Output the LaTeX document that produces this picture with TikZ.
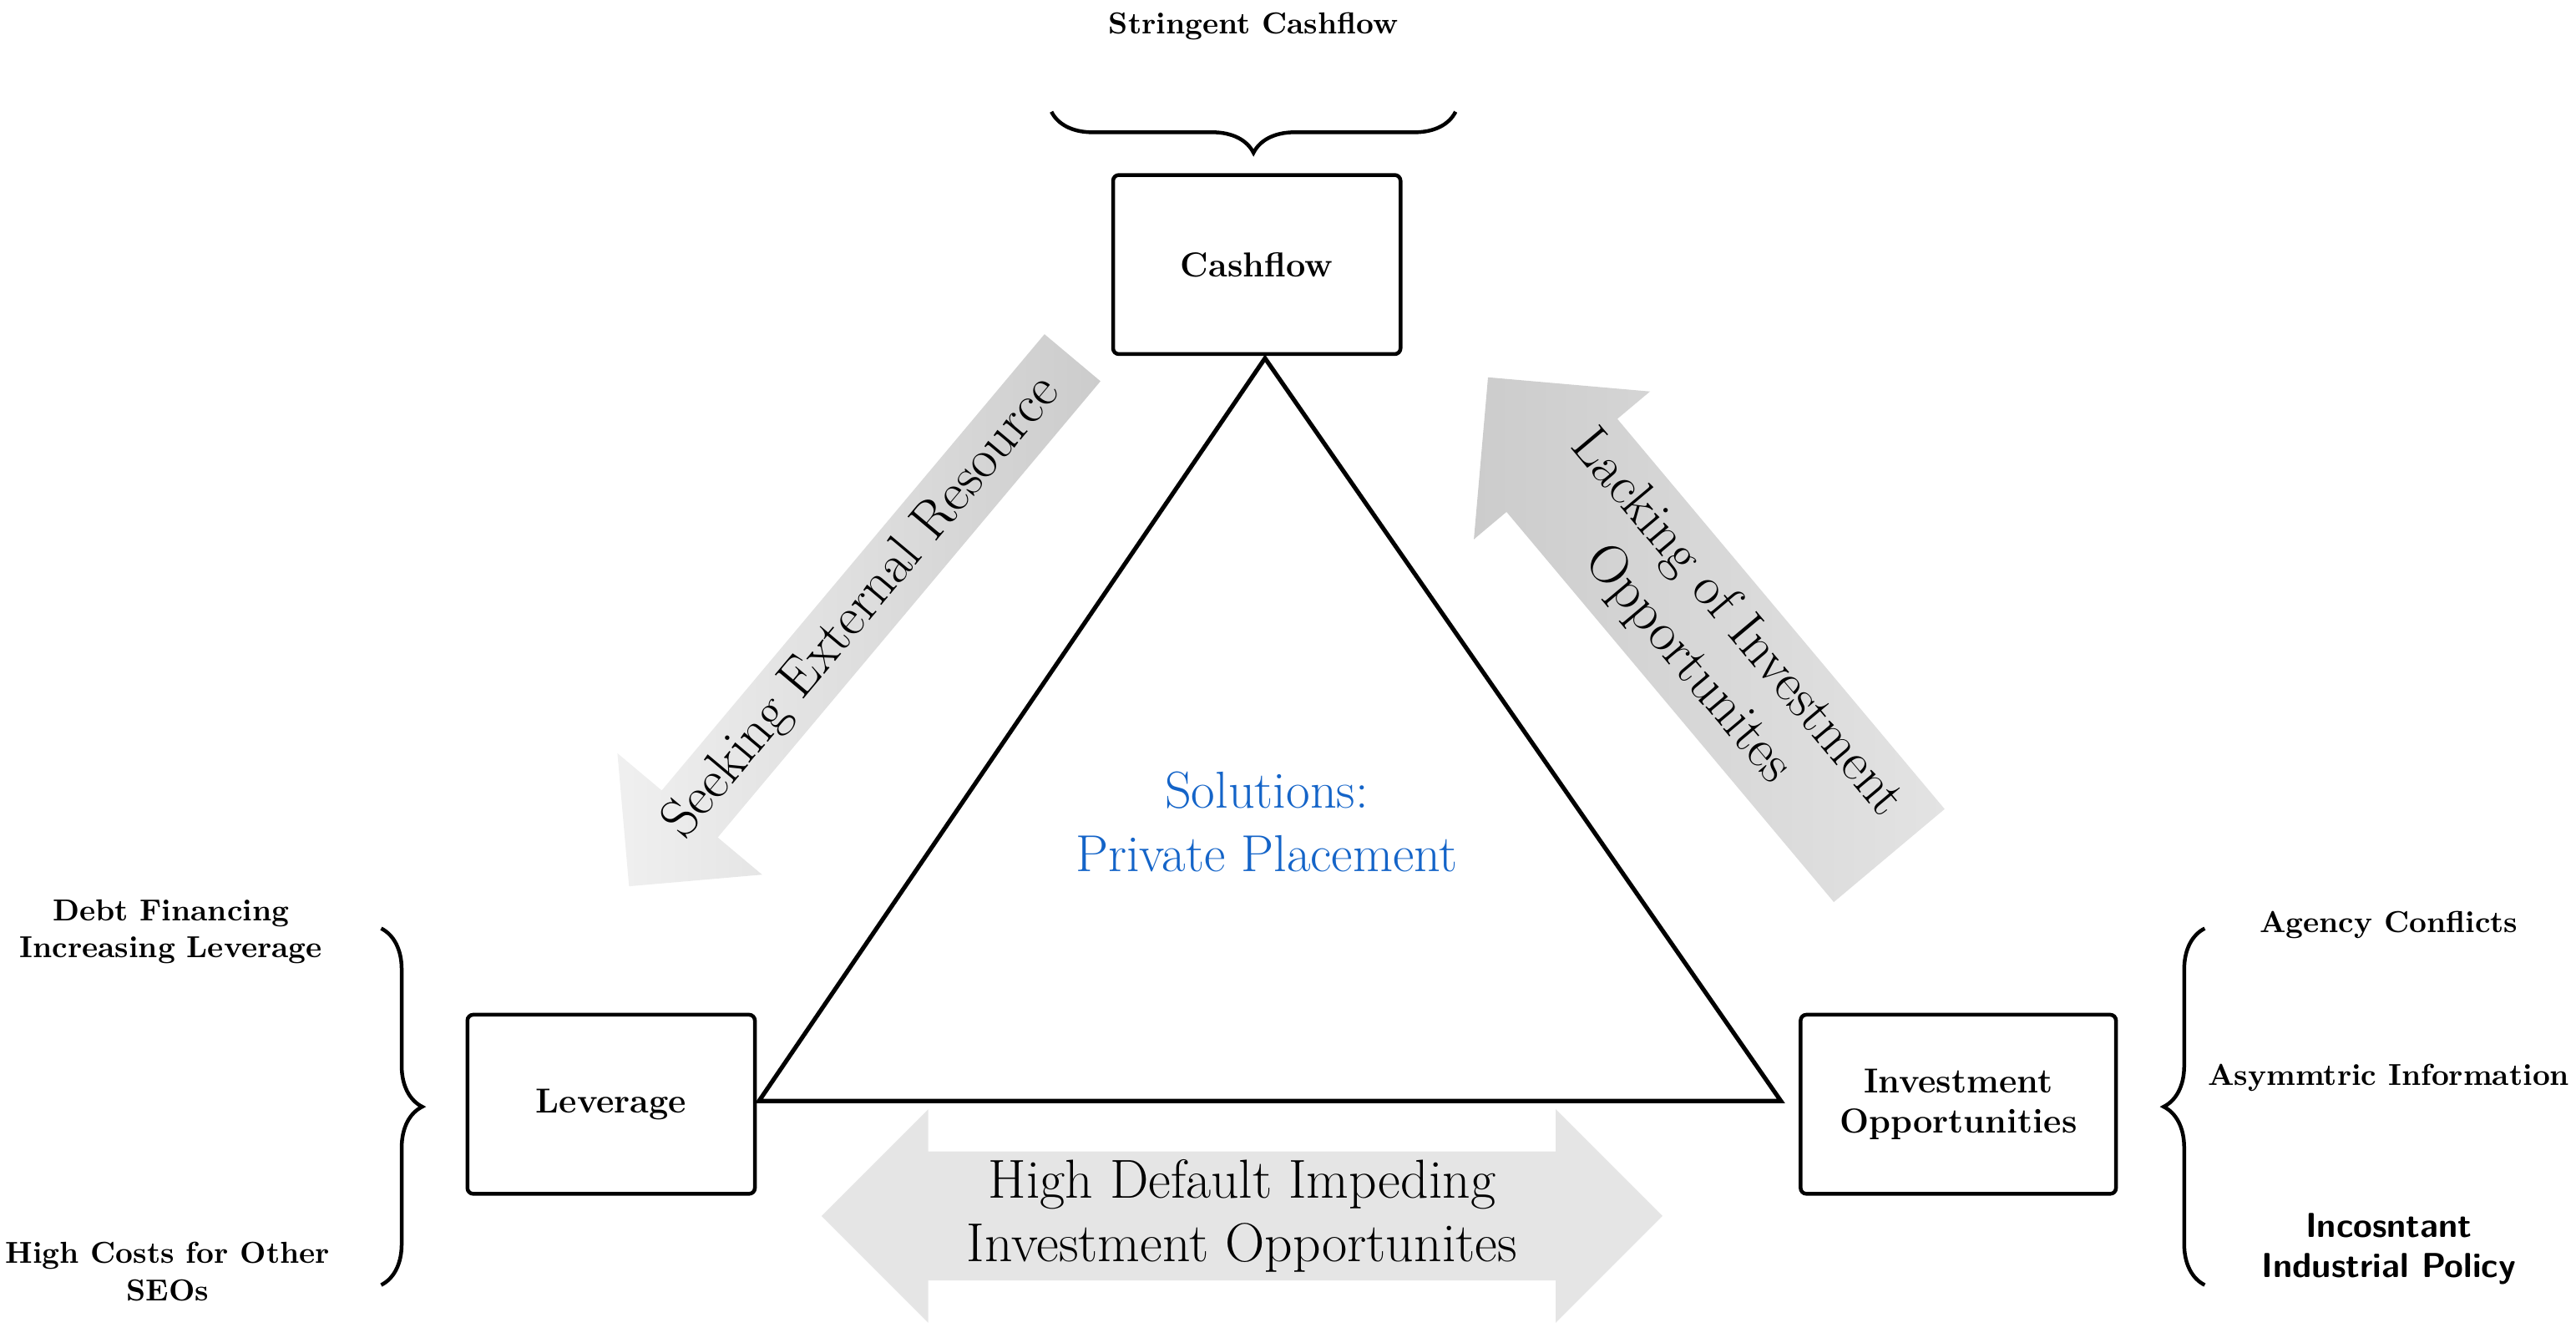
\documentclass[tikz,border=0pt]{standalone}
\usetikzlibrary{shapes.arrows,decorations.pathreplacing}
\definecolor{solblue}{RGB}{20,100,200}
\begin{document}
\begin{tikzpicture}[x=0.02cm,y=-0.02cm,
  box/.style={draw,line width=1.3pt,rounded corners=2pt,font=\fontsize{12}{14}\selectfont\bfseries,align=center},
  lbl/.style={font=\fontsize{10.5}{13}\selectfont\bfseries,align=center},
  brc/.style={draw,line width=1.3pt,decorate,decoration={brace,amplitude=0.5cm}},
  garrow/.style={inner sep=2pt,draw=none,align=center,font=\fontsize{19}{22}\selectfont}]
\useasboundingbox (0,0) rectangle (1568,817);
\node[box,minimum width=3.5cm,minimum height=2.18cm] (cash) at (765,161) {Cashflow};
\node[box,minimum width=3.5cm,minimum height=2.18cm] (lev) at (372,672) {Leverage};
\node[box,minimum width=3.84cm,minimum height=2.18cm] (inv) at (1192,672) {Investment\\Opportunities};
\coordinate (tA) at (770,218);
\coordinate (tL) at (462,670);
\coordinate (tR) at (1084,670);
\draw[line width=1.5pt,line join=miter] (tA) -- (tL) -- (tR) -- cycle;
\node[font=\fontsize{18}{22}\selectfont,text=solblue,align=center] (sol) at (771,500) {Solutions:\\Private Placement};
% arrows
\node[garrow,single arrow,shape border rotate=180,rotate=50,minimum width=2.3cm,single arrow head extend=0.6cm,minimum height=8.4cm,left color=gray!12,right color=gray!40] (seek) at (525,370) {Seeking External Resource};
\node[garrow,single arrow,shape border rotate=180,rotate=-50,minimum width=2.8cm,single arrow head extend=0.45cm,minimum height=7.6cm,left color=gray!40,right color=gray!22] (lack) at (1042,392) {Lacking of Investment\\Opportunites};
\node[garrow,double arrow,minimum width=2.6cm,double arrow head extend=0.5cm,minimum height=10.24cm,fill=gray!20] (hd) at (756,740) {High Default Impeding\\Investment Opportunites};
% braces
\coordinate (b1) at (640,68); \coordinate (b2) at (886,68);
\draw[brc,decoration={mirror}] (b1) -- (b2);
\coordinate (b3) at (232,565); \coordinate (b4) at (232,782);
\draw[brc] (b3) -- (b4);
\coordinate (b5) at (1342,565); \coordinate (b6) at (1342,782);
\draw[brc,decoration={mirror}] (b5) -- (b6);
\node[lbl] (t1) at (763,16) {Stringent Cashflow};
\node[lbl] (t2) at (104,567) {Debt Financing\\Increasing Leverage};
\node[lbl] (t3) at (102,774) {High Costs for Other\\SEOs};
\node[lbl] (t4) at (1454,563) {Agency Conflicts};
\node[lbl] (t5) at (1454,656) {Asymmtric Information};
\node[lbl,font=\fontsize{12}{14}\selectfont\bfseries\sffamily] (t6) at (1454,760) {Incosntant\\Industrial Policy};
\end{tikzpicture}
\end{document}
